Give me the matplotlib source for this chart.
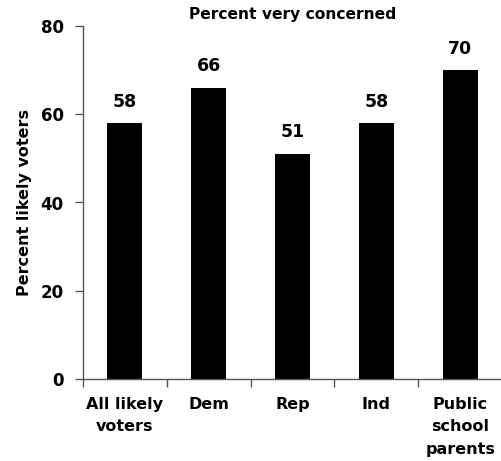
import matplotlib

matplotlib.use("Agg")

import matplotlib.pyplot as plt
import numpy as np

# Share of respondents "very concerned", by group
categories = ["All likely\nvoters", "Dem", "Rep", "Ind", "Public\nschool\nparents"]
values = [58, 66, 51, 58, 70]
y_ticks = [0, 20, 40, 60, 80]

plt.rcParams["font.family"] = ["DejaVu Sans"]
plt.rcParams["font.weight"] = "bold"

fig = plt.figure(figsize=(5.02, 4.61), dpi=100)
ax = fig.add_axes([83 / 502, 82 / 461, 419 / 502, 353 / 461])

x = np.arange(len(categories))
ax.bar(x, values, width=0.42, color="black")

# value labels above each bar
for xi, v in zip(x, values):
    ax.annotate(
        str(v),
        (xi, v),
        xytext=(0, 9),
        textcoords="offset points",
        ha="center",
        va="bottom",
        fontsize=12.5,
        fontweight="bold",
    )

ax.set_xlim(-0.5, len(categories) - 0.5)
ax.set_ylim(0, 80)
ax.set_yticks(y_ticks)
ax.set_yticklabels([str(t) for t in y_ticks], fontsize=12, fontweight="bold")

# tick marks between groups, labels centred under bars
ax.set_xticks(np.arange(len(categories) + 1) - 0.5)
ax.set_xticklabels([])
ax.set_xticks(x, minor=True)
ax.set_xticklabels(categories, minor=True, fontsize=11.5, fontweight="bold",
                   linespacing=1.62)
ax.tick_params(axis="x", which="major", direction="out", length=6, width=1, color="#555555")
ax.tick_params(axis="x", which="minor", length=0, pad=13)
ax.tick_params(axis="y", direction="out", length=6, width=1, color="#555555", pad=8)

for side in ["top", "right"]:
    ax.spines[side].set_visible(False)
for side in ["left", "bottom"]:
    ax.spines[side].set_color("#555555")
    ax.spines[side].set_linewidth(1)

ax.set_ylabel("Percent likely voters", fontsize=11.5, fontweight="bold", labelpad=6)
ax.set_title("Percent very concerned", fontsize=11.2, fontweight="bold", pad=5)

plt.savefig("out.png", dpi=100)
plt.close()
